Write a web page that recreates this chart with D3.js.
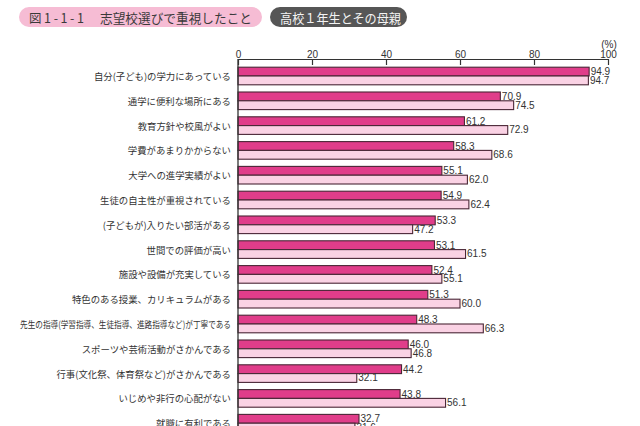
<!DOCTYPE html>
<html><head><meta charset="utf-8">
<script src="https://cdn.jsdelivr.net/npm/d3@7"></script>
<style>
html,body{margin:0;padding:0;background:#fff;}
svg{display:block;}
</style></head>
<body>
<svg id="chart" width="640" height="426"></svg>
<script>
const figNumber = "図1-1-1";
const titleText = "志望校選びで重視したこと";
const subtitleText = "高校１年生とその母親";
const categories = [
  "自分(子ども)の学力にあっている",
  "通学に便利な場所にある",
  "教育方針や校風がよい",
  "学費があまりかからない",
  "大学への進学実績がよい",
  "生徒の自主性が重視されている",
  "(子どもが)入りたい部活がある",
  "世間での評価が高い",
  "施設や設備が充実している",
  "特色のある授業、カリキュラムがある",
  "先生の指導(学習指導、生徒指導、進路指導など)が丁寧である",
  "スポーツや芸術活動がさかんである",
  "行事(文化祭、体育祭など)がさかんである",
  "いじめや非行の心配がない",
  "就職に有利である"
];
const studentValues = [94.9,70.9,61.2,58.3,55.1,54.9,53.3,53.1,52.4,51.3,48.3,46.0,44.2,43.8,32.7];
const motherValues  = [94.7,74.5,72.9,68.6,62.0,62.4,47.2,61.5,55.1,60.0,66.3,46.8,32.1,56.1,31.6];
const tickValues = [0,20,40,60,80,100];
const seriesKeys = ["student","mother"];

const svg = d3.select("#chart");
const jp = "'Noto Sans CJK JP','Noto Sans',sans-serif";
const num = "'Liberation Sans',Arial,sans-serif";

// header pills
const pink = svg.append("g");
pink.append("rect").attr("x",19).attr("y",7).attr("width",243).attr("height",20).attr("rx",10).attr("fill","#f6bcd4");
pink.append("text").attr("x",29).attr("y",17.5).attr("dominant-baseline","central")
  .attr("font-family",jp).attr("font-size",12.5).attr("letter-spacing",2.6).attr("fill","#3a3a3a").text(figNumber);
pink.append("text").attr("x",100).attr("y",17.5).attr("dominant-baseline","central")
  .attr("font-family",jp).attr("font-size",12.6).attr("fill","#3a3a3a")
  .attr("textLength",152).attr("lengthAdjust","spacingAndGlyphs").text(titleText);
const dark = svg.append("g");
dark.append("rect").attr("x",270).attr("y",7).attr("width",137).attr("height",20).attr("rx",10).attr("fill","#565656");
dark.append("text").attr("x",280).attr("y",17.5).attr("dominant-baseline","central")
  .attr("font-family",jp).attr("font-size",13).attr("fill","#f4f4f4")
  .attr("textLength",121).attr("lengthAdjust","spacingAndGlyphs").text(subtitleText);

const x = d3.scaleLinear().domain([0,100]).range([238,608]);
const y = d3.scaleBand().domain(categories).range([63.6, 63.6 + 24.8*categories.length]).padding(0);
const ys = d3.scaleBand().domain(seriesKeys).range([y.step()/2 - 8.8, y.step()/2 + 8.8]);
const axisY = 59;

// axis
const ax = svg.append("g").attr("transform",`translate(0,${axisY})`)
  .call(d3.axisTop(x).tickValues(tickValues).tickSizeInner(-6).tickSizeOuter(0).tickPadding(1.5));
ax.select(".domain").attr("stroke","#333").attr("stroke-width",1.2);
ax.selectAll(".tick line").attr("stroke","#333").attr("stroke-width",1.2);
ax.selectAll(".tick text").attr("font-family",num).attr("font-size",10).attr("fill","#333");
svg.append("text").attr("x",609).attr("y",48).attr("text-anchor","middle")
  .attr("font-family",num).attr("font-size",10).attr("fill","#333").text("(%)");

const colors = {student:"#e03d8a", mother:"#fad2e4"};
const rows = categories.map((c,i)=>({c, student:studentValues[i], mother:motherValues[i]}));

const g = svg.append("g");
const row = g.selectAll("g.row").data(rows).join("g").attr("class","row")
  .attr("transform",d=>`translate(0,${y(d.c)})`);
row.selectAll("rect").data(d=>seriesKeys.map(k=>({k,v:d[k]}))).join("rect")
  .attr("x",x(0)).attr("y",d=>ys(d.k)).attr("width",d=>x(d.v)-x(0)).attr("height",ys.bandwidth())
  .attr("fill",d=>colors[d.k]).attr("stroke","#4a2636").attr("stroke-width",1.1);
row.selectAll("text.val").data(d=>seriesKeys.map(k=>({k,v:d[k]}))).join("text").attr("class","val")
  .attr("x",d=>x(d.v)+1.5).attr("y",d=>ys(d.k)+ys.bandwidth()/2).attr("dominant-baseline","central")
  .attr("font-family",num).attr("font-size",10).attr("fill","#333").text(d=>d.v.toFixed(1));

// category labels
row.append("text").attr("x",231).attr("y",y.step()/2).attr("text-anchor","end").attr("dominant-baseline","central")
  .attr("font-family",jp).attr("font-size",9.4).attr("fill","#333").text(d=>d.c)
  .each(function(){
    const w = this.getComputedTextLength();
    if (w > 212) { d3.select(this).attr("textLength",211).attr("lengthAdjust","spacingAndGlyphs"); }
  });

// left axis line
svg.append("line").attr("x1",x(0)).attr("x2",x(0)).attr("y1",axisY).attr("y2",426)
  .attr("stroke","#333").attr("stroke-width",1.3);
</script>
</body></html>
